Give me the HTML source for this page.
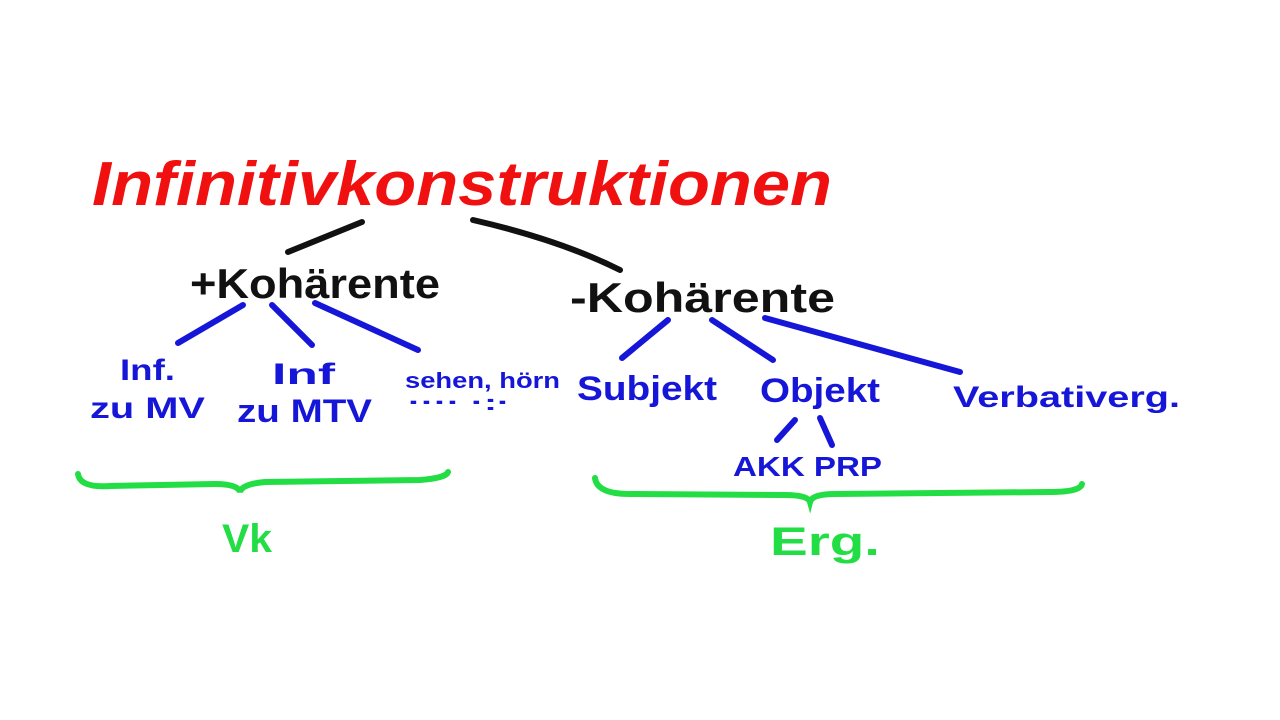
<!DOCTYPE html>
<html><head><meta charset="utf-8"><style>
html,body{margin:0;padding:0;background:#fff;width:1280px;height:720px;overflow:hidden}
svg{display:block}
text{font-family:"Liberation Sans",sans-serif;font-weight:bold}
</style></head><body>
<svg width="1280" height="720" viewBox="0 0 1280 720">
<rect width="1280" height="720" fill="#fff"/>
<text x="92" y="205" font-size="62" fill="#f01010" textLength="740" lengthAdjust="spacingAndGlyphs" font-style="italic">Infinitivkonstruktionen</text>
<g stroke="#111" stroke-width="6" stroke-linecap="round" fill="none">
<line x1="288" y1="252" x2="362" y2="222"/>
<path d="M473 220 Q560 240 620 270"/>
</g>
<text x="190" y="298" font-size="42" fill="#111" textLength="250" lengthAdjust="spacingAndGlyphs">+Kohärente</text>
<text x="570" y="312" font-size="42" fill="#111" textLength="265" lengthAdjust="spacingAndGlyphs">-Kohärente</text>
<g stroke="#1616d8" stroke-width="6" stroke-linecap="round" fill="none">
<line x1="178" y1="343" x2="243" y2="305"/>
<line x1="272" y1="305" x2="312" y2="345"/>
<line x1="315" y1="303" x2="418" y2="350"/>
<line x1="622" y1="358" x2="668" y2="320"/>
<line x1="712" y1="320" x2="773" y2="360"/>
<line x1="765" y1="318" x2="960" y2="372"/>
<line x1="777" y1="440" x2="795" y2="420"/>
<line x1="820" y1="418" x2="832" y2="445"/>
</g>
<g fill="#1616d8">
<text x="120" y="380" font-size="30" textLength="55" lengthAdjust="spacingAndGlyphs">Inf.</text>
<text x="90" y="418" font-size="30" textLength="115" lengthAdjust="spacingAndGlyphs">zu MV</text>
<text x="272" y="384" font-size="30" textLength="63" lengthAdjust="spacingAndGlyphs">Inf</text>
<text x="237" y="422" font-size="32" textLength="135" lengthAdjust="spacingAndGlyphs">zu MTV</text>
<text x="405" y="388" font-size="22" textLength="155" lengthAdjust="spacingAndGlyphs">sehen, hörn</text>
<text x="408" y="410" font-size="22" textLength="102" lengthAdjust="spacingAndGlyphs">····  ·:·</text>
<text x="577" y="400" font-size="34" textLength="140" lengthAdjust="spacingAndGlyphs">Subjekt</text>
<text x="760" y="402" font-size="34" textLength="120" lengthAdjust="spacingAndGlyphs">Objekt</text>
<text x="953" y="407" font-size="30" textLength="227" lengthAdjust="spacingAndGlyphs">Verbativerg.</text>
<text x="733" y="476" font-size="28" textLength="149" lengthAdjust="spacingAndGlyphs">AKK PRP</text>
</g>
<g stroke="#22dd44" stroke-width="6" stroke-linecap="round" fill="none">
<path d="M78 474 Q80 488 110 486 L215 484 Q238 484 240 492 Q242 484 265 482 L420 480 Q446 478 448 472"/>
<path d="M595 478 Q597 494 630 494 L785 495 Q808 495 810 502 Q812 494 835 494 L1050 492 Q1080 492 1082 484"/>
</g>
<text x="222" y="552" font-size="40" fill="#22dd44" textLength="50" lengthAdjust="spacingAndGlyphs">Vk</text>
<text x="770" y="555" font-size="40" fill="#22dd44" textLength="110" lengthAdjust="spacingAndGlyphs">Erg.</text>
</svg>
</body></html>
